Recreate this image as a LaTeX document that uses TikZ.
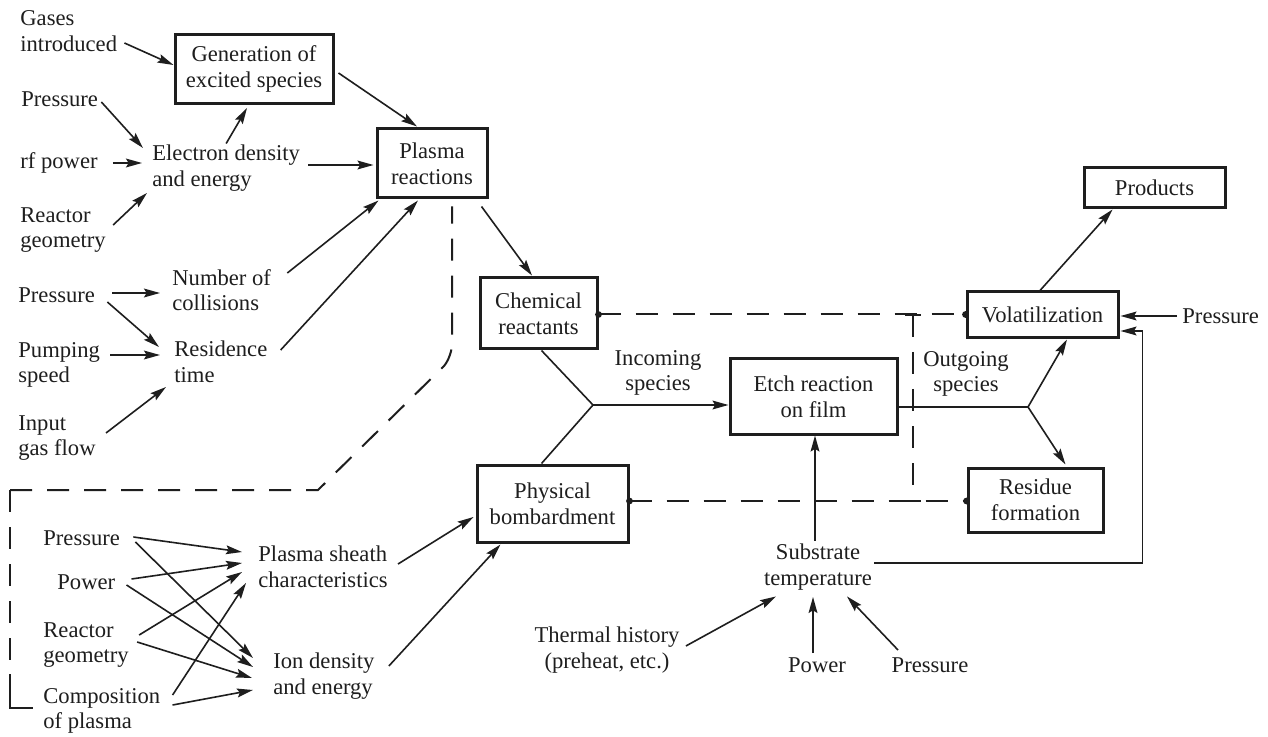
\documentclass[tikz,border=0pt]{standalone}
\usepackage{fontspec}
\setmainfont{Liberation Serif}
\usetikzlibrary{arrows.meta}
\definecolor{ink}{RGB}{30,30,30}
\begin{document}
\begin{tikzpicture}[x=0.5pt,y=-0.5pt,
  every node/.style={inner sep=0pt, font=\fontsize{11.3}{12.8}\selectfont, text=ink},
  lbl/.style={align=left, anchor=west},
  clbl/.style={align=center},
  box/.style={draw=ink, line width=1.5pt, align=center},
  arr/.style={draw=ink, line width=0.8pt, -{Stealth[length=8pt,width=4.4pt,inset=1.3pt]}},
  ln/.style={draw=ink, line width=0.8pt},
  dsh/.style={draw=ink, line width=1pt, dash pattern=on 11pt off 7.5pt},
  dshsolid/.style={draw=ink, line width=1pt}
]
\fill[white] (0,0) rectangle (1268,737);
\useasboundingbox (0,0) rectangle (1268,737);

% ---- upper left
\node[lbl] (gases) at (20,31) {Gases\\introduced};
\node[lbl] (pr1) at (21,99) {Pressure};
\node[lbl] (rf) at (20,163) {rf power};
\node[lbl] (rg1) at (20,230) {Reactor\\geometry};
\node[lbl] (eds) at (152,168) {Electron density\\and energy};
\node[box, minimum width=79pt, minimum height=34.5pt] (gen) at (254,69) {Generation of\\excited species};
\node[box, minimum width=55pt, minimum height=34.5pt] (plasma) at (432,163.5) {Plasma\\reactions};
\node[lbl] (noc) at (172,290) {Number of\\collisions};
\node[lbl] (pr2) at (18,295) {Pressure};
\node[lbl] (rt) at (174,362) {Residence\\time};
\node[lbl] (ps) at (18,365) {Pumping\\speed};
\node[lbl] (igf) at (18,438) {Input\\gas flow};

% ---- lower left
\node[lbl] (pr3) at (43,538) {Pressure};
\node[lbl] (pw1) at (57,582) {Power};
\node[lbl] (rg2) at (43,645) {Reactor\\geometry};
\node[lbl] (comp) at (43,711) {Composition\\of plasma};
\node[lbl] (sheath) at (258,567) {Plasma sheath\\characteristics};
\node[lbl] (ion) at (273,676) {Ion density\\and energy};

% ---- middle / right boxes
\node[box, minimum width=58.5pt, minimum height=35.5pt] (chem) at (538.5,313.5) {Chemical\\reactants};
\node[box, minimum width=75.5pt, minimum height=38.5pt] (phys) at (552.5,503.5) {Physical\\bombardment};
\node[box, minimum width=83.5pt, minimum height=37.5pt] (etch) at (813.5,396.5) {Etch reaction\\on film};
\node[box, minimum width=75.5pt, minimum height=23pt] (vol) at (1042.5,315) {Volatilization};
\node[box, minimum width=70.5pt, minimum height=20pt] (prod) at (1154.5,188) {Products};
\node[box, minimum width=67.5pt, minimum height=32pt] (res) at (1035.5,500) {Residue\\formation};

\node[clbl] (inc) at (658,373) {Incoming\\species};
\node[clbl] (out) at (966,374) {Outgoing\\species};
\node[clbl] (subst) at (818,567) {Substrate\\temperature};
\node[clbl] (thermal) at (607,650) {Thermal history\\(preheat, etc.)};
\node (pw2) at (817,665) {Power};
\node (pr4) at (930,665) {Pressure};
\node[lbl] (pr5) at (1182,316) {Pressure};

% ---- arrows upper left
\draw[arr] ([shift={(7,12)}]gases.east) -- ([shift={(0,-4)}]gen.west);
\draw[arr] ([shift={(4,4)}]gen.east) -- ([shift={(-15,-1)}]plasma.north);
\draw[arr] ([shift={(3,3)}]pr1.east) -- ([shift={(-9,-20)}]eds.west);
\draw[arr] ([shift={(15,0)}]rf.east) -- ([shift={(-10,-5)}]eds.west);
\draw[arr] ([shift={(7,-5)}]rg1.east) -- ([shift={(-5,25)}]eds.west);
\draw[arr] ([shift={(0,-1)}]eds.north) -- ([shift={(-7,3)}]gen.south);
\draw[arr] ([shift={(8,-3)}]eds.east) -- ([shift={(-2,1.5)}]plasma.west);
\draw[arr] ([shift={(16,-17)}]noc.east) -- ([shift={(3,1)}]plasma.south west);
\draw[arr] ([shift={(13,-12)}]rt.east) -- ([shift={(-14,1)}]plasma.south);
\draw[arr] ([shift={(17,-2)}]pr2.east) -- ([shift={(-12,3)}]noc.west);
\draw[arr] ([shift={(12,7)}]pr2.east) -- ([shift={(-15,-15)}]rt.west);
\draw[arr] ([shift={(10,-10)}]ps.east) -- ([shift={(-14,-7)}]rt.west);
\draw[arr] ([shift={(10,-5)}]igf.east) -- ([shift={(-8,25)}]rt.west);

% ---- arrows lower left
\draw[arr] ([shift={(13,-1)}]pr3.east) -- ([shift={(-16,-15)}]sheath.west);
\draw[arr] ([shift={(15,4)}]pr3.east) -- ([shift={(-20,-18)}]ion.west);
\draw[arr] ([shift={(16,-3)}]pw1.east) -- ([shift={(-16,-4)}]sheath.west);
\draw[arr] ([shift={(11,3)}]pw1.east) -- ([shift={(-20,-9)}]ion.west);
\draw[arr] ([shift={(10,-10)}]rg2.east) -- ([shift={(-16,5)}]sheath.west);
\draw[arr] ([shift={(8,-3)}]rg2.east) -- ([shift={(-21,2)}]ion.west);
\draw[arr] ([shift={(12,-16)}]comp.east) -- ([shift={(-12,16)}]sheath.west);
\draw[arr] ([shift={(12,-6)}]comp.east) -- ([shift={(-20,14)}]ion.west);
\draw[arr] ([shift={(10,-3)}]sheath.east) -- ([shift={(-2,13.5)}]phys.west);
\draw[arr] ([shift={(14,-10)}]ion.east) -- ([shift={(25,1)}]phys.south west);

% ---- middle
\draw[arr] ([shift={(-7,7)}]plasma.south east) -- ([shift={(-6.5,-1)}]chem.north);
\coordinate (j1) at (593,405);
\draw[ln] ([shift={(3,0)}]chem.south) -- (j1);
\draw[ln] ([shift={(-11,0)}]phys.north) -- (j1);
\draw[arr] (j1) -- ([shift={(0,8.5)}]etch.west);
\coordinate (j2) at (1028,407);
\draw[ln] ([shift={(0,10.5)}]etch.east) -- (j2);
\draw[arr] (j2) -- ([shift={(24.5,0)}]vol.south);
\draw[arr] (j2) -- ([shift={(30,-2)}]res.north);
\draw[arr] ([shift={(-2.5,0)}]vol.north) -- ([shift={(-42,0)}]prod.south);
\draw[arr] ([shift={(-5,0)}]pr5.west) -- ([shift={(1,1)}]vol.east);
\draw[arr] ([shift={(2,-4)}]subst.east) -- ++(268,0) |- ([shift={(1,16)}]vol.east);
\draw[arr] ([shift={(-3,-3)}]subst.north) -- ([shift={(1.5,0)}]etch.south);
\draw[arr] ([shift={(6,-4)}]thermal.east) -- ([shift={(-42,6)}]subst.south);
\draw[arr] ([shift={(-4,-12)}]pw2.center) -- ([shift={(-5,6.5)}]subst.south);
\draw[arr] ([shift={(-32,-15)}]pr4.center) -- ([shift={(29,6)}]subst.south);

% ---- dashed links
\draw[dsh] (10,490) -- (318,490) -- (444,366) [rounded corners=6pt] -- (452,356) -- ([shift={(20,7)}]plasma.south);
\draw[dsh] (10,490) -- (10,672);
\draw[dshsolid] (10,674) -- (10,708) -- (33,708);
\draw[dsh] ([shift={(0,1)}]chem.east) -- ([shift={(0,-0.5)}]vol.west);
\draw[dsh] ([shift={(0,-2.5)}]phys.east) -- ([shift={(0,1)}]res.west);
\fill[ink] ([shift={(0,1)}]chem.east) circle (1.7pt);
\fill[ink] ([shift={(0,-0.5)}]vol.west) circle (1.7pt);
\fill[ink] ([shift={(0,-2.5)}]phys.east) circle (1.7pt);
\fill[ink] ([shift={(0,1)}]res.west) circle (1.7pt);
\draw[dsh] (913,315) -- (913,501);
\draw[ln] (905,315) -- (921,315);
\draw[ln] (905,501) -- (921,501);
\end{tikzpicture}
\end{document}
